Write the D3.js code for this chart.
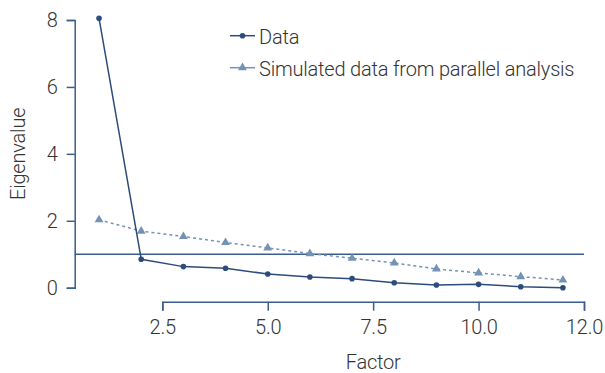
<!DOCTYPE html>
<html>
<head>
<meta charset="utf-8">
<script src="https://cdn.jsdelivr.net/npm/d3@7"></script>
<style>
  body { margin: 0; background: #fff; }
  text { font-family: Roboto, "Noto Sans", sans-serif; font-weight: 300; fill: #333; }
</style>
</head>
<body>
<div id="chart"></div>
<script>
// valeurs
const factors = [1, 2, 3, 4, 5, 6, 7, 8, 9, 10, 11, 12];
const eigenData = [8.05, 0.85, 0.63, 0.58, 0.41, 0.32, 0.27, 0.15, 0.08, 0.10, 0.03, 0.0];
const eigenSimulated = [2.03, 1.69, 1.53, 1.35, 1.19, 1.02, 0.88, 0.74, 0.56, 0.44, 0.33, 0.23];
const xTicks = [2.5, 5, 7.5, 10, 12.5];
const xTickLabels = ['2.5', '5.0', '7.5', '10.0', '12.0'];
const yTicks = [0, 2, 4, 6, 8];
const kaiserLine = 1;
const legendLabels = ['Data', 'Simulated data from parallel analysis'];

const width = 605;
const height = 373;
const darkBlue = '#2c4c7c';
const lightBlue = '#7492b6';
const axisBlue = '#3a5d8e';

const svg = d3.select('#chart')
  .append('svg')
  .attr('width', width)
  .attr('height', height);

const x = d3.scaleLinear()
  .domain([2.5, 12.5])
  .range([162.3, 584]);

const y = d3.scaleLinear()
  .domain([0, 8])
  .range([287.7, 20]);

// axe Y
const yAxis = svg.append('g')
  .attr('transform', 'translate(74.7,0)')
  .call(d3.axisLeft(y).tickValues(yTicks).tickSize(8).tickPadding(9));

// axe X (décalé sous le graphique)
const xAxis = svg.append('g')
  .attr('transform', 'translate(0,301.7)')
  .call(d3.axisBottom(x).tickValues(xTicks).tickSize(9).tickPadding(9)
    .tickFormat((d, i) => xTickLabels[i]));

[xAxis, yAxis].forEach(a => {
  a.selectAll('path, line').attr('stroke', axisBlue).attr('stroke-width', 1.5);
  a.selectAll('text').attr('font-size', 20).attr('fill', '#333')
    .attr('font-family', 'Roboto, "Noto Sans", sans-serif').attr('font-weight', 300)
    .attr('letter-spacing', -0.2);
});

// ligne horizontale à 1
svg.append('line')
  .attr('x1', 74.7)
  .attr('x2', x(12.5))
  .attr('y1', y(kaiserLine))
  .attr('y2', y(kaiserLine))
  .attr('stroke', axisBlue)
  .attr('stroke-width', 1.5);

const line = d3.line()
  .x(d => x(d[0]))
  .y(d => y(d[1]));

const simPoints = factors.map((f, i) => [f, eigenSimulated[i]]);
const dataPoints = factors.map((f, i) => [f, eigenData[i]]);

svg.append('path')
  .datum(simPoints)
  .attr('fill', 'none')
  .attr('stroke', lightBlue)
  .attr('stroke-width', 1.5)
  .attr('stroke-dasharray', '3,3')
  .attr('d', line);

const triangle = d3.symbol().type(d3.symbolTriangle).size(34);

svg.selectAll('.tri')
  .data(simPoints)
  .enter().append('path')
  .attr('class', 'tri')
  .attr('d', triangle)
  .attr('fill', lightBlue)
  .attr('transform', d => 'translate(' + x(d[0]) + ',' + y(d[1]) + ')');

svg.append('path')
  .datum(dataPoints)
  .attr('fill', 'none')
  .attr('stroke', darkBlue)
  .attr('stroke-width', 1.5)
  .attr('d', line);

svg.selectAll('.dot')
  .data(dataPoints)
  .enter().append('circle')
  .attr('class', 'dot')
  .attr('cx', d => x(d[0]))
  .attr('cy', d => y(d[1]))
  .attr('r', 2.8)
  .attr('fill', darkBlue);

// titres des axes
svg.append('text')
  .attr('x', (x.range()[0] + x.range()[1]) / 2)
  .attr('y', 369)
  .attr('text-anchor', 'middle')
  .attr('font-size', 20)
  .attr('letter-spacing', -0.2)
  .text('Factor');

svg.append('text')
  .attr('transform', 'translate(25,' + ((y.range()[0] + y.range()[1]) / 2) + ') rotate(-90)')
  .attr('text-anchor', 'middle')
  .attr('font-size', 20)
  .attr('letter-spacing', -0.2)
  .text('Eigenvalue');

// légende
const legend = svg.append('g').attr('transform', 'translate(230,35.7)');
const legendColors = [darkBlue, lightBlue];
legendLabels.forEach((label, i) => {
  const g = legend.append('g').attr('transform', 'translate(0,' + (i * 32) + ')');
  g.append('line')
    .attr('x1', 0).attr('x2', 25).attr('y1', 0).attr('y2', 0)
    .attr('stroke', legendColors[i]).attr('stroke-width', 1.5);
  if (i === 0) {
    g.append('circle').attr('cx', 12.5).attr('cy', 0).attr('r', 2.8).attr('fill', darkBlue);
  } else {
    g.append('path').attr('d', triangle).attr('transform', 'translate(12.5,0)').attr('fill', lightBlue);
  }
  g.append('text')
    .attr('x', 29)
    .attr('y', 8.5)
    .attr('font-size', 20)
    .attr('letter-spacing', -0.2)
    .text(label);
});
</script>
</body>
</html>
